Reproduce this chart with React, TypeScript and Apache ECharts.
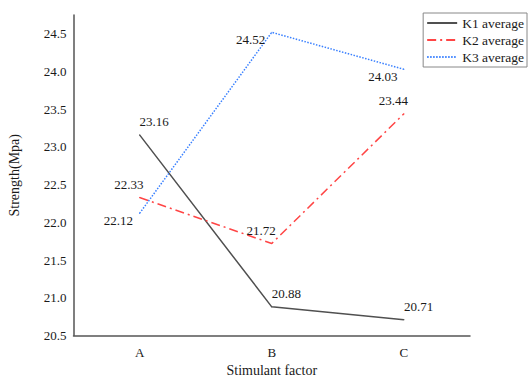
import React, { useEffect, useRef } from "react";
import * as echarts from "echarts";

const categories = ["A", "B", "C"];
const k1 = [23.16, 20.88, 20.71];
const k2 = [22.33, 21.72, 23.44];
const k3 = [22.12, 24.52, 24.03];
const seriesNames = ["K1 average", "K2 average", "K3 average"];

const FONT = "Liberation Serif";
const TEXT = "#1a1a1a";

export default function App() {
  const ref = useRef<HTMLDivElement>(null);
  useEffect(() => {
    const chart = echarts.init(ref.current!, null, { renderer: "svg" });
    const baseLabel = {
      show: true,
      fontFamily: FONT,
      fontSize: 13,
      color: TEXT,
      formatter: (p: any) => Number(p.value).toFixed(2),
    };
    chart.setOption({
      animation: false,
      textStyle: { fontFamily: FONT },
      grid: { left: 73.5, right: 60, top: 15, bottom: 44.5, outerBoundsMode: "none", containLabel: false },
      legend: {
        orient: "vertical",
        right: 3,
        top: 13,
        itemWidth: 30,
        itemHeight: 10,
        itemGap: 3,
        padding: [3, 3, 3, 3],
        borderColor: "#888",
        borderWidth: 1,
        itemStyle: { opacity: 0 },
        textStyle: { fontFamily: FONT, fontSize: 13.5, color: TEXT },
        data: seriesNames,
      },
      xAxis: {
        type: "category",
        data: categories,
        boundaryGap: true,
        name: "Stimulant factor",
        nameLocation: "middle",
        nameGap: 28,
        nameTextStyle: { fontFamily: FONT, fontSize: 14, color: TEXT },
        axisLine: { lineStyle: { color: "#555", width: 1.5 } },
        axisTick: { show: false },
        axisLabel: { fontFamily: FONT, fontSize: 13, color: TEXT, margin: 10 },
      },
      yAxis: {
        type: "value",
        min: 20.5,
        max: 24.75,
        interval: 0.5,
        name: "Strength(Mpa)",
        nameLocation: "middle",
        nameGap: 52,
        nameTextStyle: { fontFamily: FONT, fontSize: 14, color: TEXT },
        axisLine: { show: true, lineStyle: { color: "#555", width: 1.5 } },
        axisTick: { show: false },
        splitLine: { show: false },
        axisLabel: {
          fontFamily: FONT,
          fontSize: 13,
          color: TEXT,
          margin: 7,
          showMaxLabel: false,
          formatter: (v: number) => v.toFixed(1),
        },
      },
      series: [
        {
          name: seriesNames[0],
          type: "line",
          data: k1,
          symbol: "circle",
          symbolSize: 1,
          showSymbol: true,
          lineStyle: { color: "#505050", width: 1.5, type: "solid" },
          itemStyle: { color: "#505050" },
          label: { ...baseLabel, position: "top", align: "left", distance: 6 },
        },
        {
          name: seriesNames[1],
          type: "line",
          data: k2,
          symbol: "circle",
          symbolSize: 1,
          showSymbol: true,
          lineStyle: { color: "#ff4545", width: 1.5, type: [9, 4, 2, 4] },
          itemStyle: { color: "#ff4545" },
          label: { ...baseLabel, position: "top", align: "right", distance: 6, offset: [4, 0] },
        },
        {
          name: seriesNames[2],
          type: "line",
          data: k3,
          symbol: "circle",
          symbolSize: 1,
          showSymbol: true,
          lineStyle: { color: "#3a80ff", width: 1.5, type: [1.5, 1.5] },
          itemStyle: { color: "#3a80ff" },
          label: { ...baseLabel, position: "left", distance: 6, offset: [0, 7] },
        },
      ],
    });
    return () => chart.dispose();
  }, []);
  return (
    <div
      ref={ref}
      style={{ position: "absolute", left: 0, top: 0, width: 530, height: 380 }}
    />
  );
}
